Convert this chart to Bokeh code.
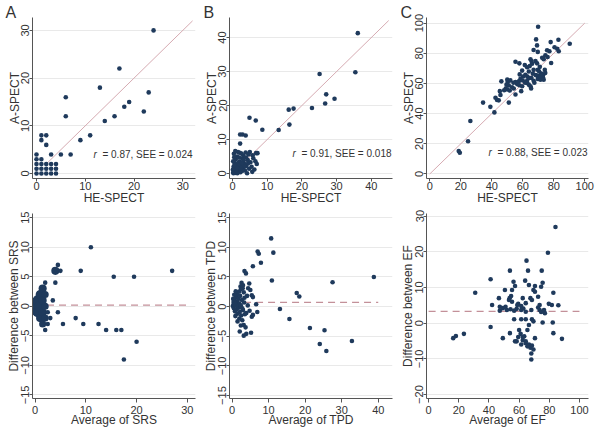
from bokeh.plotting import figure
from bokeh.layouts import gridplot
from bokeh.models import Label, FixedTicker, Range1d
from bokeh.embed import file_html
from bokeh.resources import INLINE

# ---------------- data ----------------
# Panel A (SRS): HE-SPECT vs A-SPECT
srs_he = [0, 0, 0, 0, 0, 1, 1, 1, 1, 1, 1, 2, 2, 2, 2, 2, 3, 3, 3, 3, 4, 4, 4,
          5, 6, 6, 7, 9, 11, 13, 14, 16, 17, 18, 19, 22, 23, 24]
srs_a = [0, 1, 2, 3, 4, 0, 1, 2, 3, 7, 8, 0, 1, 2, 6, 8, 0, 1, 2, 4, 0, 1, 2,
         4, 12, 16, 4, 7, 8, 18, 11, 12, 22, 14, 15, 13, 17, 30]
srs_ident = [2, 32]
srs_r_text = "= 0.87, SEE = 0.024"

# Panel B (TPD)
tpd_he = [36.1, 35.4, 25.1, 27.0, 29.4, 26.7, 22.9, 17.6, 16.2, 16.4, 13.3, 8.6, 4.9, 6.7,
          2.2, 2.9, 3.8, 2.2, 7.2,
          0.2, 0.5, 0.8, 1.0, 0.3, 1.2, 1.5, 0.6, 1.8, 2.0, 0.9, 2.3, 2.5, 1.3, 2.8, 3.0,
          0.4, 2.1, 3.3, 3.6, 1.7, 4.0, 3.1, 2.6, 4.4, 4.8, 5.2, 3.8, 5.5, 6.0, 6.3, 5.0,
          4.2, 7.0, 0.1, 0.7, 1.1, 1.4, 1.9, 2.2, 0.2, 0.5, 2.9, 3.5, 3.9, 4.6, 5.8, 6.6,
          1.6, 0.8, 2.4, 3.2, 0.3, 1.0, 1.3, 0.6, 2.7, 4.5, 5.7, 6.8]
tpd_a = [41.3, 29.8, 29.3, 23.3, 22.0, 20.6, 19.3, 19.1, 18.8, 14.4, 12.8, 12.9, 16.4, 15.6,
         11.5, 11.5, 11.2, 8.8, 6.0,
         0.3, 0.8, 0.2, 1.5, 2.0, 0.6, 2.4, 3.1, 1.1, 3.5, 4.2, 0.4, 2.0, 5.0, 4.4, 1.3,
         5.8, 6.1, 3.0, 0.9, 3.2, 2.2, 5.3, 5.9, 4.0, 1.4, 3.3, 6.2, 2.0, 4.5, 1.2, 6.3,
         0.1, 2.8, 1.1, 1.9, 2.8, 0.1, 4.7, 2.7, 3.6, 4.8, 0.8, 2.1, 4.7, 5.6, 5.4, 3.6,
         6.3, 6.6, 1.6, 3.9, 0.1, 0.9, 1.7, 2.5, 3.1, 3.0, 0.5, 6.0]
tpd_ident = [0, 45]
tpd_r_text = "= 0.91, SEE = 0.018"

# Panel C (EF)
ef_he = [69.9, 68.6, 69.2, 69.7, 78.0, 83.0, 90.3, 82.2, 83.2, 78.3, 75.7, 77.2, 74.6, 72.5,
         73.5, 67.0, 65.0, 65.6, 66.0, 68.2, 69.2, 55.3, 57.8, 61.3, 62.8, 59.6, 63.9, 67.0,
         69.7, 71.0, 74.2, 72.0, 73.0, 74.5, 68.5, 70.0, 71.0, 72.0, 73.0, 69.7, 71.4, 65.6,
         67.0, 64.0, 62.8, 61.7, 60.2, 58.5, 60.0, 61.5, 57.5, 56.5, 55.3, 56.3, 57.8, 59.6,
         62.8, 63.9, 65.0, 65.4, 59.0, 55.3, 50.0, 50.3, 49.5, 51.0, 49.0, 50.0, 51.6, 53.1,
         54.2, 46.2, 45.2, 45.6, 42.4, 43.4, 44.5, 51.0, 34.4, 39.1, 41.7, 26.2, 24.7, 18.7,
         19.4, 66.5, 70.5, 64.5, 76.0, 80.5, 63.0, 58.0, 54.0, 48.0, 52.0, 67.5, 71.5, 73.5]
ef_a = [97.6, 89.2, 85.2, 80.9, 87.4, 89.0, 86.3, 83.0, 81.3, 73.5, 82.0, 81.3, 78.7, 77.0,
        76.1, 82.2, 76.0, 74.8, 73.0, 74.8, 73.3, 74.4, 73.3, 72.2, 70.7, 68.5, 67.9, 69.0,
        69.0, 71.0, 69.0, 66.5, 65.5, 67.0, 65.5, 65.0, 64.5, 66.0, 64.0, 63.0, 62.5, 63.6,
        61.8, 63.6, 61.8, 65.7, 64.6, 63.0, 62.0, 60.5, 61.5, 59.5, 61.0, 60.3, 58.8, 58.1,
        60.3, 59.2, 58.1, 56.6, 54.9, 52.7, 62.5, 61.0, 59.2, 58.6, 56.6, 56.0, 55.3, 57.5,
        56.6, 61.4, 54.9, 52.3, 50.5, 49.0, 48.8, 47.3, 47.3, 44.5, 40.8, 35.1, 21.7, 15.2,
        14.1, 66.5, 68.0, 71.5, 77.5, 84.0, 64.5, 66.0, 60.5, 55.5, 62.0, 60.5, 63.5, 62.5]
ef_ident = [0, 100]
ef_r_text = "= 0.88, SEE = 0.023"

# Bland-Altman SRS: average, difference, number of patients at that point
srs_avg = [0, 0.5, 1, 1.5, 2, 0.5, 1, 1.5, 2, 4, 4.5, 1, 1.5, 2, 4, 5, 1.5, 2, 2.5, 3.5,
           2, 2.5, 3, 4.5, 9, 11, 5.5, 8, 9.5, 15.5, 12.5, 14, 19.5, 16, 17, 17.5, 20, 27]
srs_diff = [0, 1, 2, 3, 4, -1, 0, 1, 2, 6, 7, -2, -1, 0, 4, 6, -3, -2, -1, 1,
            -4, -3, -2, -1, 6, 10, -3, -2, -3, 5, -3, -4, 5, -4, -4, -9, -6, 6]
srs_n = [25, 6, 4, 3, 1, 6, 8, 3, 2, 3, 1, 3, 3, 2, 1, 1, 2, 2, 1, 1,
         1, 1, 1, 1, 1, 1, 1, 1, 1, 1, 1, 1, 1, 1, 1, 1, 1, 1]
srs_mean = 0.2
srs_mean_x = [0, 30]

# Bland-Altman TPD
tpd_avg = [10.7, 7.0, 7.3, 11.3, 7.9, 5.7, 3.4, 3.8, 10.9, 27.5, 38.8, 17.7, 18.4, 13.1,
           15.7, 21.3, 25.3, 24.0, 25.8, 32.8, 5.2, 2.1, 3.2, 3.9, 1.5, 4.7, 4.4, 5.0, 4.1,
           5.4, 5.7, 3.9, 4.8, 5.4, 5.7, 6.9, 2.4, 3.2, 3.7, 2.8,
           0.2, 0.4, 0.5, 0.7, 0.8, 1.0, 1.1, 1.2, 1.3, 1.4, 1.5, 1.6, 1.7, 1.8, 1.9, 2.0,
           2.1, 2.2, 2.3, 2.4, 2.5, 2.6, 2.7, 2.9, 3.0, 3.0, 3.2, 3.3, 3.5, 0.6, 0.3, 0.9,
           1.0, 2.0, 0.5, 1.2, 0.8, 2.8, 3.4, 2.4, 4.3, 6.6]
tpd_diff = [11.5, 9.3, 8.9, 9.1, 7.4, 6.8, 6.0, 5.6, 4.4, 4.1, 5.0, 2.3, 1.7, -0.4,
            -2.1, -3.6, -4.0, -6.3, -7.5, -5.8, -4.4, -4.2, -4.9, -4.6, -2.5, 3.9, 3.1, 2.8, 1.8,
            1.9, 1.6, -1.1, -0.7, -1.7, -1.4, -0.9, -3.2, -3.1, -3.5, -2.3,
            0.1, 0.6, -0.3, 1.0, -0.8, 0.3, 1.6, -0.5, 2.1, 0.8, -1.2, 0.0, 1.3, -0.2, 2.5, 0.5,
            -0.9, 1.8, 3.4, 0.2, -1.5, 4.0, 1.1, 3.1, 3.6, -0.6, 2.4, 0.7, -1.3, 2.0, 1.3, -1.6,
            2.6, -2.0, 0.9, 0.2, 0.5, -0.3, 1.5, 2.9, 0.2, 0.4]
tpd_mean = 0.7
tpd_mean_x = [0, 40]

# Bland-Altman EF
ef_avg = [79.1, 64.9, 53.9, 65.9, 75.0, 41.1, 56.3, 64.0, 75.6, 66.5, 70.5, 74.6, 57.3, 55.3,
          50.6, 30.9, 69.5, 70.5, 82.7, 46.6, 53.7, 54.7, 53.3, 67.5, 55.3, 72.6, 42.1, 47.2,
          59.4, 61.4, 64.4, 79.7, 81.7, 86.0, 47.2, 49.2, 51.9, 54.3, 56.7, 58.4, 61.4, 62.8,
          64.4, 68.1, 72.6, 73.6, 74.6, 77.1, 56.7, 61.4, 64.4, 68.5, 69.5, 75.6, 82.3, 41.1,
          66.5, 53.9, 60.0, 61.0, 63.4, 59.4, 62.4, 64.4, 58.4, 61.4, 64.4, 66.5, 67.5, 68.5,
          65.5, 68.1, 69.5, 16.3, 18.1, 23.4, 49.2, 82.7, 88.4, 57.3, 62.4, 70.5, 65.5, 68.1,
          51.0, 58.8, 62.4, 68.5, 73.6, 76.5, 84.1]
ef_diff = [19.7, 17.5, 14.7, 14.7, 14.7, 12.3, 11.6, 11.9, 11.3, 10.7, 10.4, 10.2, 10.4, 9.3,
           9.3, 8.5, 9.3, 8.8, 8.5, 7.0, 7.0, 7.6, 6.5, 7.0, 6.0, 7.4, 5.1, 4.6,
           5.4, 4.8, 5.6, 5.4, 5.1, 5.0, 3.5, 4.2, 3.7, 3.9, 3.5, 4.0, 3.7, 4.1,
           3.2, 3.7, 4.4, 3.7, 3.1, 2.8, 1.1, 1.1, 1.1, 1.1, 0.5, 0.2, 0.2, -1.1,
           -0.5, -2.8, -1.9, -3.0, -3.7, -3.9, -4.8, -5.1, -5.1, -6.0, -5.6, -6.0, -6.9, -6.3,
           -6.5, -8.5, -7.4, -4.2, -3.6, -3.0, -4.2, -2.8, -4.4, -5.1, -3.9, -4.2, -1.9, -10.2,
           4.6, 5.1, 7.0, 6.5, 5.1, 3.7, 26.9]
ef_mean = 3.3
ef_mean_x = [0, 100]

# ---------------- style ----------------
FONT = "Liberation Sans"
DOT = "#1f3a5c"
IDENT = "#d6abb2"
MEANC = "#c39099"
TXT = "#333333"
AX = "#555555"
DOT_SIZE = 4.6
REST_W = 92.9  # px width of the text after the italic "r" at 10px


def make(w, h, borders, xr, yr, xticks, yticks, xlabel, ylabel, top_row, title=None):
    l, r, t, b = borders
    p = figure(width=w, height=h, output_backend="svg", toolbar_location=None,
               x_range=Range1d(*xr), y_range=Range1d(*yr), title=title,
               min_border_left=l, min_border_right=r, min_border_top=t, min_border_bottom=b)
    p.outline_line_color = None
    p.background_fill_color = "white"
    p.border_fill_color = "white"
    p.xgrid.grid_line_color = None
    p.ygrid.grid_line_color = "#e9e9e9"
    p.xaxis.ticker = FixedTicker(ticks=xticks)
    p.yaxis.ticker = FixedTicker(ticks=yticks)
    p.xaxis.axis_label = xlabel
    p.yaxis.axis_label = ylabel
    for ax in (p.xaxis[0], p.yaxis[0]):
        ax.axis_line_color = AX
        ax.major_tick_line_color = AX
        ax.major_tick_out = 3
        ax.major_tick_in = 0
        ax.minor_tick_line_color = None
        ax.major_label_text_font = FONT
        ax.major_label_text_font_size = "11px"
        ax.major_label_text_color = TXT
        ax.axis_label_text_font = FONT
        ax.axis_label_text_font_size = "12px"
        ax.axis_label_text_font_style = "normal"
        ax.axis_label_text_color = TXT
        ax.major_label_standoff = 0
    xa, ya = p.xaxis[0], p.yaxis[0]
    ya.major_label_orientation = "vertical"
    if top_row:
        xa.axis_label_standoff = -2
        ya.axis_label_standoff = -3
    else:
        xa.major_tick_out = 4
        xa.major_label_standoff = 3
        xa.axis_label_standoff = -4
        ya.axis_label_standoff = -2
    if title is not None:
        p.title.text_font = FONT
        p.title.text_font_size = "16px"
        p.title.text_font_style = "normal"
        p.title.text_color = TXT
        p.title.standoff = -6
    return p


def rtext(p, xr, y, txt, right_gap):
    p.add_layout(Label(x=xr[1], y=y, text=txt, x_offset=-right_gap, text_align="right",
                       text_baseline="middle", text_font=FONT, text_font_size="10px",
                       text_color=TXT))
    p.add_layout(Label(x=xr[1], y=y, text="r", x_offset=-(right_gap + REST_W + 2.8),
                       text_align="right", text_baseline="middle", text_font=FONT,
                       text_font_size="10px", text_font_style="italic", text_color=TXT))


TOP_H, BOT_H = 207, 222
W = [200, 196, 204]

# top row
xrA, yrA = (-0.82, 32.6), (-1.04, 32.7)
a1 = make(W[0], TOP_H, (32, 5, 17, 28), xrA, yrA, [0, 10, 20, 30], [0, 10, 20, 30],
          "HE-SPECT", "A-SPECT", True, title="A")
a1.title.offset = -27
a1.line(srs_ident, srs_ident, line_color=IDENT, line_width=1)
a1.scatter(srs_he, srs_a, size=DOT_SIZE, fill_color=DOT, line_color=None)
rtext(a1, xrA, 3.96, srs_r_text, 3)

xrB, yrB = (-0.86, 46.1), (-1.46, 45.9)
b1 = make(W[1], TOP_H, (29, 4, 17, 28), xrB, yrB, [0, 10, 20, 30, 40], [0, 10, 20, 30, 40],
          "HE-SPECT", "A-SPECT", True, title="B")
b1.title.offset = -26
b1.line(tpd_ident, tpd_ident, line_color=IDENT, line_width=1)
b1.scatter(tpd_he, tpd_a, size=DOT_SIZE, fill_color=DOT, line_color=None)
rtext(b1, xrB, 5.85, tpd_r_text, 1)

xrC, yrC = (-2.1, 102.4), (-3.0, 103.7)
c1 = make(W[2], TOP_H, (30, 12, 15, 28), xrC, yrC, [0, 20, 40, 60, 80, 100],
          [0, 20, 40, 60, 80, 100], "HE-SPECT", "A-SPECT", True, title="C")
c1.title.offset = -26
c1.line(ef_ident, ef_ident, line_color=IDENT, line_width=1)
c1.scatter(ef_he, ef_a, size=DOT_SIZE, fill_color=DOT, line_color=None)
rtext(c1, xrC, 13.9, ef_r_text, 1)

# bottom row
ba_ticks = [-15, -10, -5, 0, 5, 10, 15]
xrA2, yrA2 = (-0.5, 31.6), (-15.6, 15.7)
a2 = make(W[0], BOT_H, (29, 3, 6, 30), xrA2, yrA2, [0, 10, 20, 30], ba_ticks,
          "Average of SRS", "Difference between SRS", False)
a2.line(srs_mean_x, [srs_mean, srs_mean], line_color=MEANC, line_width=1.2, line_dash="7 5")
a2.scatter(srs_avg, srs_diff, size=[DOT_SIZE + 2.5 * (n - 1) ** 0.5 for n in srs_n],
           fill_color=DOT, line_color=None)

xrB2, yrB2 = (-0.7, 43.9), (-15.5, 15.7)
b2 = make(W[1], BOT_H, (25, 1, 6, 30), xrB2, yrB2, [0, 10, 20, 30, 40], ba_ticks,
          "Average of TPD", "Difference between TPD", False)
b2.line(tpd_mean_x, [tpd_mean, tpd_mean], line_color=MEANC, line_width=1.2, line_dash="7 5")
b2.scatter(tpd_avg, tpd_diff, size=DOT_SIZE, fill_color=DOT, line_color=None)

xrC2, yrC2 = (-1.4, 106.0), (-21.1, 30.7)
c2 = make(W[2], BOT_H, (26, 1, 6, 30), xrC2, yrC2, [0, 20, 40, 60, 80, 100],
          [-20, -10, 0, 10, 20, 30], "Average of EF", "Difference between EF", False)
c2.line(ef_mean_x, [ef_mean, ef_mean], line_color=MEANC, line_width=1.2, line_dash="7 5")
c2.scatter(ef_avg, ef_diff, size=DOT_SIZE, fill_color=DOT, line_color=None)

grid = gridplot([[a1, b1, c1], [a2, b2, c2]], toolbar_location=None)

open("out.html", "w").write(file_html(grid, INLINE))
